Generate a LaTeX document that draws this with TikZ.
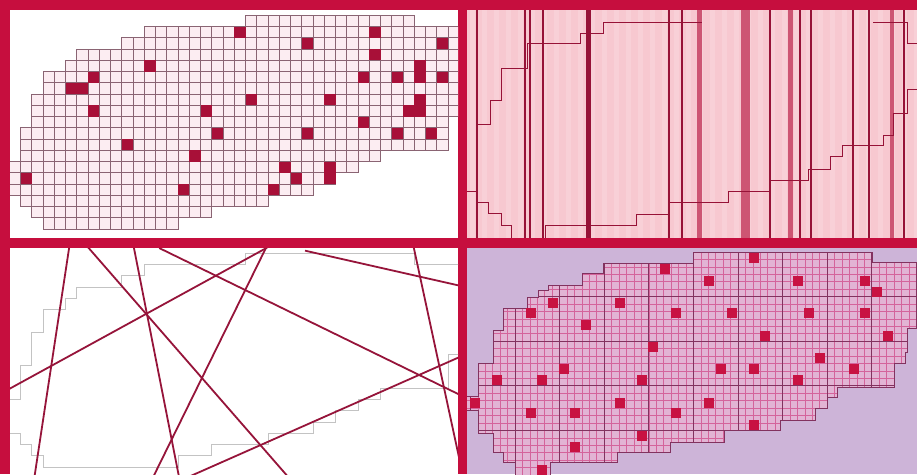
\documentclass[tikz,border=0pt]{standalone}
\definecolor{crim}{RGB}{198,14,62}
\definecolor{sqc}{RGB}{168,16,56}
\definecolor{gridc}{RGB}{138,100,115}
\definecolor{cellbg}{RGB}{252,237,242}
\definecolor{pinkbg}{RGB}{247,200,208}
\definecolor{lav}{RGB}{205,180,216}
\definecolor{shapebg}{RGB}{226,180,212}
\definecolor{finec}{RGB}{212,100,155}
\definecolor{blockc}{RGB}{130,50,95}
\definecolor{stripdark}{RGB}{150,18,55}
\definecolor{stripmed}{RGB}{205,85,115}
\definecolor{outl}{RGB}{195,195,195}
\definecolor{linec}{RGB}{150,20,58}
\definecolor{brsq}{RGB}{200,18,66}
\begin{document}
\begin{tikzpicture}[x=1pt,y=-1pt,
  gridline/.style={draw=gridc,line width=0.6pt},
  fillsq/.style={fill=sqc},
  darkbar/.style={draw=stripdark,line width=1.8pt},
  medbar/.style={draw=stripmed},
  stair/.style={draw=stripdark,line width=0.9pt},
  cross/.style={draw=linec,line width=1.8pt,shorten <=-12pt,shorten >=-12pt},
  fine/.style={draw=finec,line width=0.5pt},
  block/.style={draw=blockc,line width=0.8pt},
  brdot/.style={fill=brsq},
  tlshape/.style={insert path={(20,-1) -- (35,-1) -- (35,0) -- (39,0) -- (39,8) -- (38,8) -- (38,11) -- (32,11) -- (32,12) -- (30,12) -- (30,13) -- (28,13) -- (28,14) -- (26,14) -- (26,15) -- (22,15) -- (22,16) -- (17,16) -- (17,17) -- (14,17) -- (14,18) -- (2,18) -- (2,17) -- (1,17) -- (1,16) -- (0,16) -- (0,15) -- (-1,15) -- (-1,12) -- (0,12) -- (0,9) -- (1,9) -- (1,6) -- (2,6) -- (2,4) -- (4,4) -- (4,3) -- (5,3) -- (5,2) -- (9,2) -- (9,1) -- (11,1) -- (11,0) -- (20,0) -- cycle}},
  brshape/.style={insert path={(603,263) -- (693,263) -- (693,252) -- (872,252) -- (872,262) -- (920,262) -- (920,328) -- (907,328) -- (907,352) -- (905,352) -- (905,363) -- (894,363) -- (894,387) -- (837,387) -- (837,397) -- (827,397) -- (827,408) -- (815,408) -- (815,420) -- (780,420) -- (780,430) -- (724,430) -- (724,442) -- (670,442) -- (670,452) -- (617,452) -- (617,462) -- (550,462) -- (550,478) -- (515,478) -- (515,462) -- (503,462) -- (503,452) -- (493,452) -- (493,433) -- (478,433) -- (478,410) -- (465,410) -- (465,396) -- (478,396) -- (478,363) -- (493,363) -- (493,330) -- (503,330) -- (503,308) -- (527,308) -- (527,297) -- (538,297) -- (538,290) -- (548,290) -- (548,285) -- (582,285) -- (582,273) -- (603,273) -- cycle}}
]
\useasboundingbox (0,0) rectangle (917,474);
\fill[crim] (0,0) rectangle (917,474);
\fill[white] (10,10) rectangle (458,238);
\fill[pinkbg] (467,10) rectangle (917,238);
\fill[white] (10,248) rectangle (458,474);
\fill[lav] (467,248) rectangle (917,474);

% ---------- top left: cell grid ----------
\begin{scope}
\clip (10,10) rectangle (458,238);
\begin{scope}[shift={(20.5,26.5)},x=11.25pt,y=-11.25pt]
\fill[cellbg,tlshape];
\foreach \r/\a/\b in {-1/20/34,0/11/38,1/9/38,2/5/38,3/4/38,4/2/38,5/2/38,6/1/38,7/1/38,8/1/37,9/0/37,10/0/37,11/0/31,12/-1/29,13/-1/27,14/-1/25,15/0/21,16/1/16,17/2/13}{
  \foreach \c in {\a,...,\b}{\draw[gridline] (\c,\r) rectangle ++(1,1);}
}
\foreach \c/\r in {19/0,25/1,31/0,37/1,11/3,6/4,4/5,5/5,31/2,30/4,33/4,35/3,35/4,37/4,20/6,27/6,35/6,34/7,35/7,6/7,16/7,17/9,25/9,30/8,33/9,36/9,9/10,15/11,23/12,24/13,27/12,27/13,14/14,22/14,0/13}{
  \fill[fillsq] (\c,\r) rectangle ++(1,1);
}
\end{scope}
\end{scope}

% ---------- top right: vertical strips ----------
\begin{scope}
\clip (467,10) rectangle (917,238);
\foreach \x in {470,482,...,915}{\fill[white,opacity=0.16] (\x,10) rectangle ++(5,228);}
\foreach \x in {476.7,525,530,543.3,669.3,681.7,770.3,799.7,811,853,868.7,904.3}{\draw[darkbar] (\x,10) -- (\x,238);}
\draw[darkbar,line width=4.5pt] (588.3,10) -- (588.3,238);
\draw[medbar,line width=5pt] (699.7,10) -- (699.7,238);
\draw[medbar,line width=9pt] (745.3,10) -- (745.3,238);
\draw[medbar,line width=5pt] (790.3,10) -- (790.3,238);
\draw[medbar,line width=4pt] (892.3,10) -- (892.3,238);
\draw[stair] (476.7,124.3) -- (490,124.3) -- (490,100) -- (501.7,100) -- (501.7,68.3) -- (527,68.3) -- (527,43.3) -- (580,43.3) -- (580,33.3) -- (603,33.3) -- (603,22.3) -- (702,22.3);
\draw[stair] (873,22.3) -- (907,22.3) -- (907,43.3) -- (917,43.3);
\draw[stair] (917,89) -- (907,89) -- (907,113) -- (893.7,113) -- (893.7,135) -- (883.7,135) -- (883.7,145.7) -- (842,145.7) -- (842,156.7) -- (830,156.7) -- (830,169.3) -- (808.7,169.3) -- (808.7,180) -- (770,180) -- (770,191) -- (728.7,191) -- (728.7,202.3) -- (669,202.3) -- (669,214.3) -- (636.7,214.3) -- (636.7,225.7) -- (545,225.7) -- (545,238);
\draw[stair] (467,191) -- (476.7,191);
\draw[stair] (476.7,202.3) -- (488.3,202.3) -- (488.3,213.3) -- (501.7,213.3) -- (501.7,225) -- (511.7,225) -- (511.7,238);
\end{scope}

% ---------- bottom left: outline and crossing lines ----------
\begin{scope}
\clip (10,248) rectangle (458,474);
\begin{scope}[shift={(20.5,264.5)},x=11.25pt,y=-11.25pt]
\draw[outl,line width=1pt,tlshape];
\end{scope}
\draw[cross] (68.3,253.3) -- (35,473.3);
\draw[cross] (93.3,253.3) -- (285,473.3);
\draw[cross] (135,253.3) -- (178.3,473.3);
\draw[cross] (170,253.3) -- (456.7,393.3);
\draw[cross] (263.3,253.3) -- (155,473.3);
\draw[cross] (256.7,253.3) -- (13.3,386.7);
\draw[cross] (316.7,253.3) -- (456.7,285);
\draw[cross] (415,253.3) -- (456.7,446.7);
\draw[cross] (196.7,473.3) -- (456.7,358.3);
\end{scope}

% ---------- bottom right: fine grid with blocks ----------
\begin{scope}
\clip (467,248) rectangle (917,474);
\fill[shapebg,brshape];
\begin{scope}
\clip[brshape];
\foreach \k in {-7,...,55}{\draw[fine] ({515+7.43*\k},248) -- ++(0,230);}
\foreach \k in {0,...,30}{\draw[fine] (460,{252+7.43*\k}) -- ++(460,0);}
\foreach \k in {-1,...,9}{\draw[block] ({515+44.6*\k},248) -- ++(0,230);}
\foreach \k in {0,...,5}{\draw[block] (460,{252+44.6*\k}) -- ++(460,0);}
\end{scope}
\draw[block,brshape];
\foreach \x/\y in {665/269.3,754/258.3,709.3/280.7,798.3/280.7,865/280.7,876.7/291.7,553.3/302.7,620/302.7,530.7/313.3,676/313.3,731.7/313.3,809.3/313.3,865/313.3,586/325,765/336,888.3/336,653.3/347.3,820/358.3,564/369.3,720.7/369.3,754/369.3,854/369.3,497.3/380,541.7/380,641.7/380,798.3/380,475/402.7,620/402.7,709.3/402.7,530.7/413.3,575/413.3,676/413.3,754/425,641.7/436,575/447.3,541.7/470}{
  \fill[brdot] (\x-5,\y-5) rectangle (\x+5,\y+5);
}
\end{scope}
\end{tikzpicture}
\end{document}
